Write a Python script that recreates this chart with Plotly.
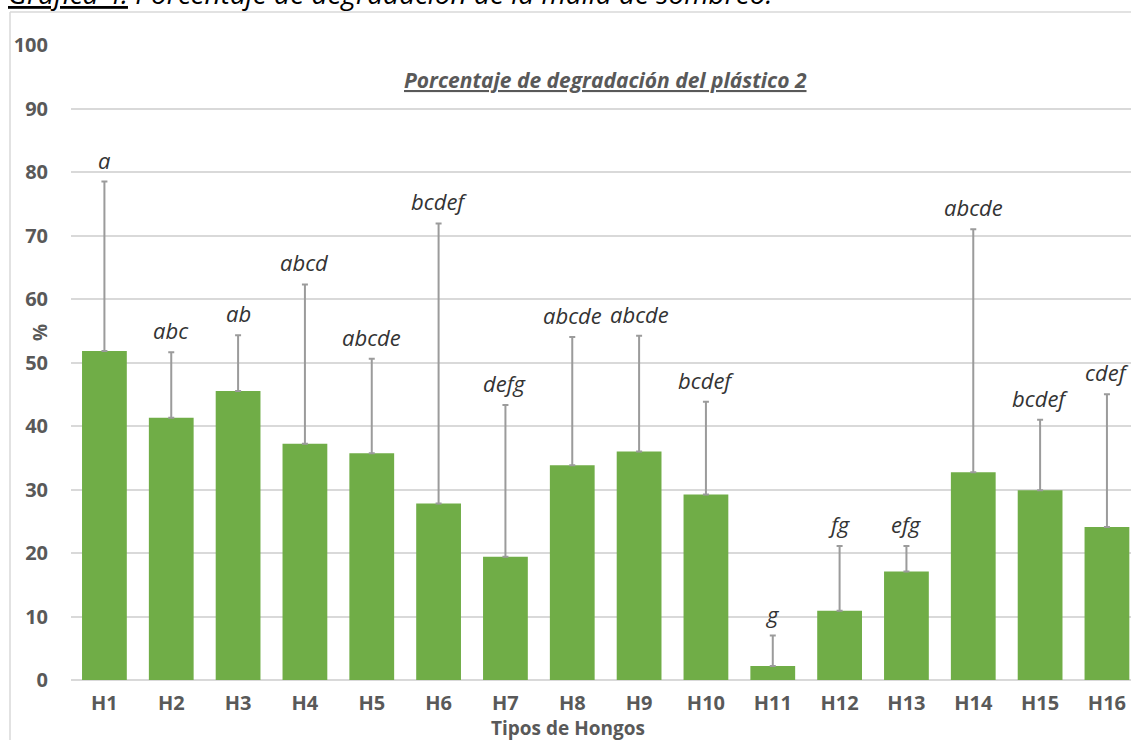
import plotly.graph_objects as go

# Fungus types on the category axis
hongos = ["H1", "H2", "H3", "H4", "H5", "H6", "H7", "H8",
          "H9", "H10", "H11", "H12", "H13", "H14", "H15", "H16"]

# Mean degradation (%) per fungus
degradacion = [51.8, 41.3, 45.5, 37.2, 35.7, 27.8, 19.4, 33.8,
               36.0, 29.2, 2.2, 10.9, 17.1, 32.7, 29.9, 24.1]

# Upper end of each error bar (%)
limite_sup = [78.5, 51.6, 54.3, 62.3, 50.6, 71.9, 43.3, 54.0,
              54.2, 43.8, 7.0, 21.1, 21.1, 71.0, 41.0, 45.0]

# Significance groups written above each bar
grupos = ["a", "abc", "ab", "abcd", "abcde", "bcdef", "defg", "abcde",
          "abcde", "bcdef", "g", "fg", "efg", "abcde", "bcdef", "cdef"]

error_sup = [round(s - m, 2) for s, m in zip(limite_sup, degradacion)]

W, H = 1131, 740
ML, MR, MT, MB = 71, 0, 45, 60
PW, PH = W - ML - MR, H - MT - MB


def px_x(p):
    return (p - ML) / PW


def px_y(p):
    return (H - MB - p) / PH


fig = go.Figure()
fig.add_trace(go.Bar(
    x=list(range(len(hongos))),
    y=degradacion,
    marker=dict(color="#70AD47", line=dict(width=0)),
    width=0.67,
    error_y=dict(type="data", array=error_sup, symmetric=False,
                 arrayminus=[0] * len(hongos),
                 color="#9B9B9B", thickness=2, width=3),
    hoverinfo="skip",
))

annotations = []
for i, (g, top) in enumerate(zip(grupos, limite_sup)):
    annotations.append(dict(
        x=i, y=top, xref="x", yref="y", text=f"<i>{g}</i>",
        showarrow=False, yanchor="bottom", yshift=5,
        font=dict(family="Open Sans", size=22, color="#333333"),
    ))

# Chart title
annotations.append(dict(
    x=px_x(605), y=px_y(80), xref="paper", yref="paper",
    text="<b><i><u>Porcentaje de degradación del plástico 2</u></i></b>",
    showarrow=False, xanchor="center", yanchor="middle",
    font=dict(family="Open Sans", size=21, color="#595959"),
))
# Caption of the figure (runs off the top edge of the page)
annotations.append(dict(
    x=px_x(6), y=px_y(-7), xref="paper", yref="paper",
    text="<i><u>Gráfica 4.</u> Porcentaje de degradación de la malla de sombreo.</i>",
    showarrow=False, xanchor="left", yanchor="middle",
    font=dict(family="Open Sans", size=28, color="#000000"),
))
# Axis titles
annotations.append(dict(
    x=px_x(40), y=px_y(333), xref="paper", yref="paper",
    text="<b>%</b>", textangle=-90, showarrow=False,
    xanchor="center", yanchor="middle",
    font=dict(family="Open Sans", size=19, color="#595959"),
))
annotations.append(dict(
    x=px_x(568), y=px_y(728), xref="paper", yref="paper",
    text="<b>Tipos de Hongos</b>", showarrow=False,
    xanchor="center", yanchor="middle",
    font=dict(family="Open Sans", size=19, color="#595959"),
))

shapes = [
    # outer chart frame (left and top edges)
    dict(type="line", xref="paper", yref="paper",
         x0=px_x(10), x1=px_x(10), y0=px_y(745), y1=px_y(12),
         line=dict(color="#D9D9D9", width=1.5)),
    dict(type="line", xref="paper", yref="paper",
         x0=px_x(10), x1=px_x(1135), y0=px_y(12), y1=px_y(12),
         line=dict(color="#D9D9D9", width=1.5)),
]

fig.update_layout(
    width=W, height=H,
    margin=dict(l=ML, r=MR, t=MT, b=MB, autoexpand=False),
    paper_bgcolor="white", plot_bgcolor="white",
    showlegend=False,
    annotations=annotations,
    shapes=shapes,
    xaxis=dict(
        tickmode="array", tickvals=list(range(len(hongos))), ticktext=hongos,
        range=[-0.5, 15.36], showgrid=False, zeroline=False,
        showline=False, ticks="", ticklabelstandoff=9,
        tickfont=dict(family="Open Sans", size=20, color="#595959", weight="bold"),
    ),
    yaxis=dict(
        range=[0, 100], dtick=10, showgrid=True, gridcolor="#D9D9D9",
        gridwidth=1.5, zeroline=True, zerolinecolor="#D9D9D9",
        zerolinewidth=1.5, showline=False, ticks="", ticklabelstandoff=22,
        tickfont=dict(family="Open Sans", size=20, color="#595959", weight="bold"),
    ),
)

fig.write_html("out.html")
